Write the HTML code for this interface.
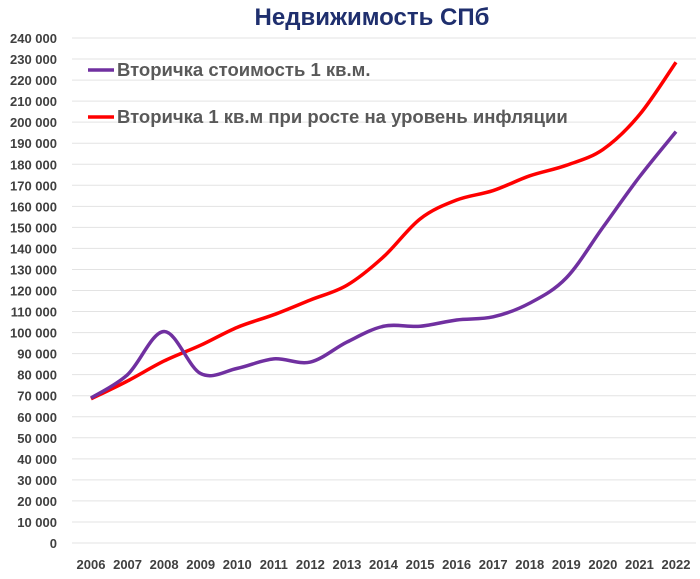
<!DOCTYPE html>
<html><head><meta charset="utf-8"><style>
body{margin:0;background:#fff;}
svg{display:block;font-family:"Liberation Sans",Arial,sans-serif;}
</style></head><body>
<svg width="700" height="579" viewBox="0 0 700 579">
<text x="372" y="25" text-anchor="middle" font-size="24" font-weight="bold" fill="#1f2f6e">Недвижимость СПб</text>
<g id="grid"></g>
<g id="yt"></g>
<g id="xt"></g>
<g id="lines"></g>
<g>
<line x1="88" y1="70" x2="114" y2="70" stroke="#7030a0" stroke-width="3.5"/>
<text x="117" y="76" font-size="18.5" font-weight="bold" fill="#595959">Вторичка стоимость 1 кв.м.</text>
<line x1="88" y1="117" x2="114" y2="117" stroke="#ff0000" stroke-width="3.5"/>
<text x="117" y="123" font-size="18.5" font-weight="bold" fill="#595959">Вторичка 1 кв.м при росте на уровень инфляции</text>
</g>
</svg>
<script>
const years=["2006","2007","2008","2009","2010","2011","2012","2013","2014","2015","2016","2017","2018","2019","2020","2021","2022"];
const secondary=[68900,80000,100500,80500,83000,87500,86000,95500,103000,103000,106000,107500,114000,126000,150000,174000,195500];
const inflation=[68500,77000,86500,94000,102500,108500,115500,122500,136000,154000,163000,167500,174500,179500,187000,203500,228500];
const yTicks=[0,10000,20000,30000,40000,50000,60000,70000,80000,90000,100000,110000,120000,130000,140000,150000,160000,170000,180000,190000,200000,210000,220000,230000,240000];
const NS="http://www.w3.org/2000/svg";
const y=v=>543-v*(505/240000);
const x=i=>91+i*(585/16);
const fmt=v=>v===0?"0":String(v).replace(/\B(?=(\d{3})+(?!\d))/g," ");
function mk(t,a,p){const e=document.createElementNS(NS,t);for(const k in a)e.setAttribute(k,a[k]);p.appendChild(e);return e;}
const g=document.getElementById('grid'),yt=document.getElementById('yt'),xt=document.getElementById('xt'),L=document.getElementById('lines');
yTicks.forEach(v=>{
 const l=mk('line',{x1:72,x2:696,y1:y(v),y2:y(v),stroke:'#e3e3e3','stroke-width':1},g);
 
 
 const t=mk('text',{x:57,y:y(v)+5,'text-anchor':'end','font-size':13,'font-weight':'bold',fill:'#404040'},yt);
 t.textContent=fmt(v);
 
 
});
years.forEach((yr,i)=>{
 const t=mk('text',{x:x(i),y:569,'text-anchor':'middle','font-size':13,'font-weight':'bold',fill:'#404040'},xt);
 t.textContent=yr;
 
 
});
function path(vals){
 const p=vals.map((v,i)=>[x(i),y(v)]);
 let d="M"+p[0][0]+","+p[0][1];
 for(let i=0;i<p.length-1;i++){
  const p0=p[Math.max(i-1,0)],p1=p[i],p2=p[i+1],p3=p[Math.min(i+2,p.length-1)];
  const c1=[p1[0]+(p2[0]-p0[0])/6,p1[1]+(p2[1]-p0[1])/6];
  const c2=[p2[0]-(p3[0]-p1[0])/6,p2[1]-(p3[1]-p1[1])/6];
  d+=" C"+c1+" "+c2+" "+p2;
 }
 return d;
}
const pr=mk('path',{d:path(inflation),fill:'none',stroke:'#ff0000','stroke-width':3.5},L);


const pp=mk('path',{d:path(secondary),fill:'none',stroke:'#7030a0','stroke-width':3.5},L);


</script>
</body></html>
